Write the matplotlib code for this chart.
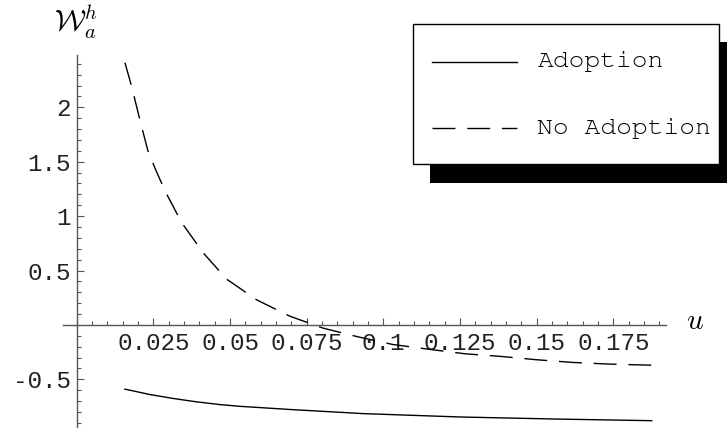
import matplotlib
matplotlib.use('Agg')
import matplotlib.pyplot as plt
from matplotlib.patches import Rectangle
from matplotlib.lines import Line2D
from matplotlib.ticker import FixedLocator, FixedFormatter, MultipleLocator

# data
u_adopt = [0.0157, 0.0239, 0.0315, 0.0391, 0.0467, 0.0532, 0.0701, 0.0934, 0.125, 0.1565, 0.1875]
w_adopt = [-0.59, -0.64, -0.676, -0.707, -0.732, -0.748, -0.778, -0.815, -0.846, -0.865, -0.88]

u_noadopt = [0.0157, 0.0179, 0.0207, 0.0232, 0.0255, 0.0288, 0.0342, 0.0413, 0.0489, 0.0587,
             0.0695, 0.0804, 0.0918, 0.1031, 0.1152, 0.1266, 0.1386, 0.150, 0.1619, 0.1739, 0.1875]
w_noadopt = [2.41, 2.19, 1.87, 1.60, 1.44, 1.23, 0.94, 0.66, 0.42, 0.23,
             0.08, -0.03, -0.11, -0.18, -0.225, -0.265, -0.29, -0.32, -0.345, -0.36, -0.37]

series_labels = ['Adoption', 'No Adoption']
x_ticks = [0.025, 0.05, 0.075, 0.1, 0.125, 0.15, 0.175]
x_tick_labels = ['0.025', '0.05', '0.075', '0.1', '0.125', '0.15', '0.175']
y_ticks = [-0.5, 0.5, 1, 1.5, 2]
y_tick_labels = ['-0.5', '0.5', '1', '1.5', '2']

W, H = 727, 429
dash = (16.5, 8.5)
axis_col = '#555555'
tick_font = 'Liberation Mono'
legend_font = ['Nimbus Mono PS', 'Courier New', 'FreeMono', 'Liberation Mono']

plt.rcParams['mathtext.fontset'] = 'cm'

fig = plt.figure(figsize=(W / 100, H / 100), dpi=100)
ax = fig.add_axes([62.7 / W, 2 / H, 603 / W, 372 / H])

ax.plot(u_adopt, w_adopt, color='black', lw=1.0)
ax.plot(u_noadopt, w_noadopt, color='black', lw=1.0, dashes=dash)

ax.set_xlim(-0.0046, 0.19205)
ax.set_ylim(-0.938, 2.481)

# axes through the origin, mathematica style
for s in ['top', 'right']:
    ax.spines[s].set_visible(False)
ax.spines['left'].set_position(('data', 0))
ax.spines['bottom'].set_position(('data', 0))
for s in ['left', 'bottom']:
    ax.spines[s].set_color(axis_col)
    ax.spines[s].set_linewidth(1.0)

ax.xaxis.set_major_locator(FixedLocator(x_ticks))
ax.xaxis.set_major_formatter(FixedFormatter(x_tick_labels))
ax.yaxis.set_major_locator(FixedLocator(y_ticks))
ax.yaxis.set_major_formatter(FixedFormatter(y_tick_labels))
ax.xaxis.set_minor_locator(MultipleLocator(0.005))
ax.yaxis.set_minor_locator(MultipleLocator(0.1))

ax.tick_params(which='major', direction='in', length=5, width=0.8, color=axis_col)
ax.tick_params(which='minor', direction='in', length=3, width=0.8, color=axis_col)
ax.tick_params(axis='x', which='major', pad=5.0)
ax.tick_params(axis='y', which='major', pad=4.3)
for lab in ax.get_xticklabels() + ax.get_yticklabels():
    lab.set_fontfamily(tick_font)
    lab.set_fontsize(17.5)
    lab.set_color('#222222')

def px(x, y):
    return (x / W, 1 - y / H)

fig.text(*px(695, 321), '$u$', fontsize=21, ha='center', va='center')
fig.text(*px(76, 22), r'$\mathcal{W}_a^h$', fontsize=21, ha='center', va='center')

# legend box with hard black shadow
shadow = Rectangle(px(430, 182.7), 306.6 / W, 140.4 / H, transform=fig.transFigure,
                   facecolor='black', edgecolor='none', zorder=5)
box = Rectangle(px(412.7, 164), 306.6 / W, 140 / H, transform=fig.transFigure,
                facecolor='white', edgecolor='black', lw=1.0, zorder=6)
fig.patches.extend([shadow, box])

rows_y = [61.7, 128.3]
styles = [dict(), dict(dashes=dash)]
for lbl, yy, st in zip(series_labels, rows_y, styles):
    x0, y0 = px(431.7, yy)
    x1, _ = px(516.7, yy)
    fig.lines.append(Line2D([x0, x1], [y0, y0], transform=fig.transFigure,
                            color='black', lw=1.0, zorder=7, **st))
    fig.text(*px(537.3, yy), lbl, fontfamily=legend_font, fontsize=19,
             ha='left', va='center', zorder=8)

fig.savefig('out.png', dpi=100)
